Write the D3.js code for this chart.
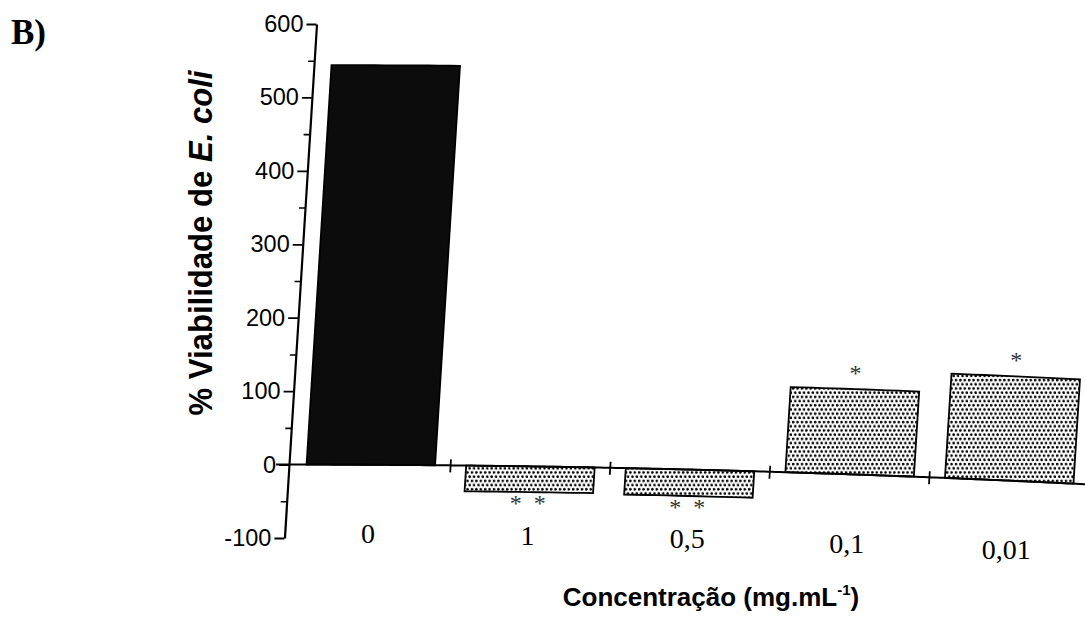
<!DOCTYPE html>
<html><head><meta charset="utf-8">
<script src="https://cdn.jsdelivr.net/npm/d3@7"></script>
<style>body{margin:0;background:#fff}svg{display:block}</style>
</head><body>
<svg id="chart" width="1085" height="623"></svg>
<script>
// ---- data ----
const categories = ["0", "1", "0,5", "0,1", "0,01"];
const values = [544, -35, -36, 116, 142];
const marks = ["", "* *", "* *", "*", "*"];
const yTicks = [-100, 0, 100, 200, 300, 400, 500, 600];
const yMinorTicks = [-50, 50, 150, 250, 350, 450, 550];
const panelLabel = "B)";
const yTitleMain = "% Viabilidade de ";
const yTitleItalic = "E. coli";
const xTitleMain = "Concentração (mg.mL";
const xTitleSup = "-1";

// ---- layout (scan distortion mimicked by a mild warp) ----
const W = 1085, H = 623;
const u0 = 289, v0 = 465, shear = -0.0624, bend = 3.1e-5;
function warp(u, v) { const d = Math.max(0, u - u0); return [u + shear * (v - v0), v + bend * d * d]; }

const svg = d3.select("#chart");
const y = d3.scaleLinear().domain([-100, 600]).range([538, 24]);
const x = d3.scaleBand().domain(categories).range([291, 1089]).paddingInner(0.195).paddingOuter(0.0975);

// patterns
const defs = svg.append("defs");
const pat = defs.append("pattern").attr("id", "dots").attr("patternUnits", "userSpaceOnUse")
  .attr("width", 4.4).attr("height", 8.4);
pat.append("rect").attr("width", 4.4).attr("height", 8.4).attr("fill", "#fff");
pat.append("circle").attr("cx", 1.1).attr("cy", 2.1).attr("r", 1.35).attr("fill", "#000");
pat.append("circle").attr("cx", 3.3).attr("cy", 6.3).attr("r", 1.35).attr("fill", "#000");

function warpedRectPath(x0, x1, y0, y1) {
  const pts = [];
  const n = 12;
  for (let i = 0; i <= n; i++) pts.push(warp(x0 + (x1 - x0) * i / n, y0));
  for (let i = 0; i <= n; i++) pts.push(warp(x1 - (x1 - x0) * i / n, y1));
  return d3.line()(pts) + "Z";
}

// bars
svg.append("g").selectAll("path").data(categories).join("path")
  .attr("d", (c, i) => {
    const v = values[i];
    return warpedRectPath(x(c), x(c) + x.bandwidth(), y(Math.max(0, v)), y(Math.min(0, v)));
  })
  .attr("fill", (c, i) => i === 0 ? "#0c0c0c" : "url(#dots)")
  .attr("stroke", "#000").attr("stroke-width", 1.8).attr("stroke-linejoin", "miter");

// x baseline and category separators
const basePts = d3.range(276, 1090, 4).map(u => warp(u, y(0)));
svg.append("path").attr("d", d3.line()(basePts)).attr("fill", "none").attr("stroke", "#000").attr("stroke-width", 2);
const seps = categories.slice(1).map(c => x(c) - x.step() * x.paddingInner() / 2);
svg.append("g").selectAll("path").data(seps).join("path")
  .attr("d", u => d3.line()([warp(u, y(0) - 6), warp(u, y(0) + 7)]))
  .attr("stroke", "#000").attr("stroke-width", 1.8);

// y axis (sheared to follow the scan)
const skewDeg = Math.atan(-shear) * 180 / Math.PI;
const yAxisG = svg.append("g").attr("transform", `matrix(1,0,${shear},1,${u0 - shear * v0},0)`);
yAxisG.append("g").call(d3.axisLeft(y).tickValues(yMinorTicks).tickSize(6).tickSizeOuter(0).tickFormat(""))
  .call(g => g.select(".domain").remove())
  .call(g => g.selectAll("line").attr("stroke", "#000").attr("stroke-width", 1.6));
yAxisG.append("g").call(d3.axisLeft(y).tickValues(yTicks).tickSize(10).tickSizeOuter(0).tickPadding(3)
    .tickFormat(d => String(d)))
  .call(g => g.select(".domain").attr("stroke", "#000").attr("stroke-width", 2.2))
  .call(g => g.selectAll("line").attr("stroke", "#000").attr("stroke-width", 1.8))
  .call(g => g.selectAll("text").attr("fill", "#000")
    .attr("font-family", "'Liberation Sans', Arial, sans-serif").attr("font-size", 23.5)
    .attr("transform", `skewX(${skewDeg})`));

// category labels
svg.append("g").selectAll("text").data(categories).join("text")
  .attr("x", c => warp(x(c) + x.bandwidth() / 2, 543)[0] + 2)
  .attr("y", c => warp(x(c) + x.bandwidth() / 2, 543)[1])
  .attr("text-anchor", "middle")
  .attr("font-family", "'Liberation Serif', 'Times New Roman', serif").attr("font-size", 28)
  .text(c => c);

// significance marks
svg.append("g").selectAll("text").data(categories).join("text")
  .attr("x", (c, i) => warp(x(c) + x.bandwidth() / 2, values[i] < 0 ? y(values[i]) + 19 : y(values[i]) - 8)[0])
  .attr("y", (c, i) => warp(x(c) + x.bandwidth() / 2, values[i] < 0 ? y(values[i]) + 19 : y(values[i]) - 8)[1])
  .attr("text-anchor", "middle").attr("fill", "#333")
  .attr("font-family", "'Liberation Serif', 'Times New Roman', serif").attr("font-size", 24)
  .style("white-space", "pre")
  .text((c, i) => marks[i].replace(" ", "\u2002"));

// panel label
svg.append("text").attr("x", 11).attr("y", 44)
  .attr("font-family", "'Liberation Serif', 'Times New Roman', serif").attr("font-weight", "bold").attr("font-size", 35)
  .text(panelLabel);

// y title
const yt = svg.append("text").attr("transform", "translate(212,243) rotate(-90)")
  .attr("text-anchor", "middle")
  .attr("textLength", 345).attr("lengthAdjust", "spacingAndGlyphs")
  .attr("font-family", "'Liberation Sans', Arial, sans-serif").attr("font-weight", "bold").attr("font-size", 33);
yt.append("tspan").text(yTitleMain);
yt.append("tspan").attr("font-style", "italic").text(yTitleItalic);

// x title
const xt = svg.append("text").attr("x", 711).attr("y", 606).attr("text-anchor", "middle")
  .attr("font-family", "'Liberation Sans', Arial, sans-serif").attr("font-weight", "bold").attr("font-size", 26);
xt.append("tspan").text(xTitleMain);
xt.append("tspan").attr("font-size", 15).attr("dy", -11).text(xTitleSup);
xt.append("tspan").attr("dy", 11).text(")");
</script>
</body></html>
